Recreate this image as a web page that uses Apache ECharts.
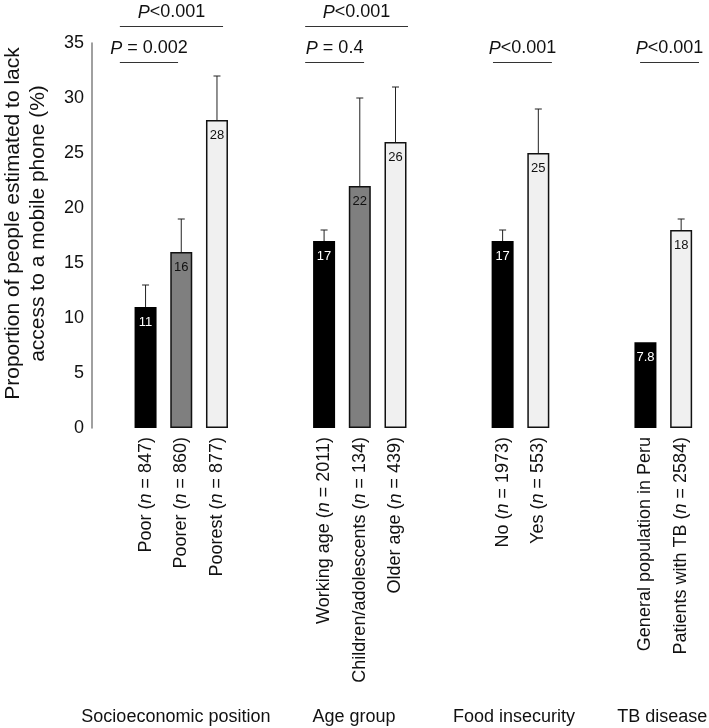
<!DOCTYPE html>
<html><head><meta charset="utf-8">
<script src="https://cdn.jsdelivr.net/npm/echarts@6/dist/echarts.min.js"></script>
<style>html,body{margin:0;padding:0;background:#fff}#c{width:709px;height:728px}</style>
</head><body><div id="c"></div>
<script>
// ---- data ----
const categories = ['', 'Poor', 'Poorer', 'Poorest', '', '', 'Working age', 'Children/adolescents', 'Older age', '', '', 'No', 'Yes', '', '', 'General population in Peru', 'Patients with TB'];
const sampleSizes = [null, 847, 860, 877, null, null, 2011, 134, 439, null, null, 1973, 553, null, null, null, 2584];
const values = [null, 11, 16, 28, null, null, 17, 22, 26, null, null, 17, 25, null, null, 7.8, 18];
const upperCI = [null, 13, 19, 32, null, null, 18, 30, 31, null, null, 18, 29, null, null, null, 19];
const groupNames = ['Socioeconomic position', 'Age group', 'Food insecurity', 'TB disease'];
const groupMembers = [[1, 2, 3], [6, 7, 8], [11, 12], [15, 16]];
const pValueTexts = ['P<0.001', 'P = 0.002', 'P<0.001', 'P = 0.4', 'P<0.001', 'P<0.001'];
const yMin = 0, yMax = 35, yStep = 5;
const yTitle = 'Proportion of people estimated to lack\naccess to a mobile phone (%)';

// ---- layout / style ----
const FONT = '"Liberation Sans", Arial, Helvetica, sans-serif';
const bracketLayout = [
  {from: 0.28, to: 3.17, level: 36.55},
  {from: 0.28, to: 1.91, level: 33.27},
  {from: 5.47, to: 8.35, level: 36.55},
  {from: 5.47, to: 7.12, level: 33.27},
  {from: 10.73, to: 12.38, level: 33.27},
  {from: 14.85, to: 16.5, level: 33.27}
];
const groupLabelPos = [1.85, 6.84, 11.32, 15.47];
const COL_BLACK = '#000000', COL_GRAY = '#7f7f7f', COL_LIGHT = '#f0f0f0';

function shadeFor(i) {
  for (const g of groupMembers) {
    const k = g.indexOf(i);
    if (k < 0) continue;
    if (k === 0) return 'black';
    if (k === g.length - 1) return 'light';
    return 'gray';
  }
  return null;
}

const barData = values.map((v, i) => {
  if (v == null) return '-';
  const s = shadeFor(i);
  const fill = s === 'black' ? COL_BLACK : s === 'gray' ? COL_GRAY : COL_LIGHT;
  return {
    value: v,
    itemStyle: {color: fill, borderColor: '#111', borderWidth: s === 'black' ? 0 : 1.5},
    label: {color: s === 'black' ? '#ffffff' : '#111111'}
  };
});

const errData = [];
values.forEach((v, i) => { if (v != null && upperCI[i] != null) errData.push([i, v, upperCI[i]]); });

const chart = echarts.init(document.getElementById('c'), null, {renderer: 'canvas'});
chart.setOption({
  animation: false,
  backgroundColor: '#ffffff',
  textStyle: {fontFamily: FONT},
  grid: {left: 92, right: 10, top: 43, bottom: 300, containLabel: false, outerBoundsMode: 'none'},
  xAxis: {
    type: 'category',
    data: categories,
    axisLine: {show: false},
    axisTick: {show: false},
    axisLabel: {
      interval: 0, rotate: 90, margin: 9, fontSize: 18, color: '#111', fontFamily: FONT,
      formatter: (val, idx) => sampleSizes[idx] != null ? `${val} ({i|n} = ${sampleSizes[idx]})` : val,
      rich: {i: {fontStyle: 'italic', fontSize: 18, color: '#111', fontFamily: FONT}}
    }
  },
  yAxis: {
    type: 'value', min: yMin, max: yMax, interval: yStep,
    splitLine: {show: false},
    axisTick: {show: false},
    axisLine: {show: true, lineStyle: {color: '#808080', width: 1.5}},
    axisLabel: {fontSize: 18, color: '#111', margin: 8, fontFamily: FONT},
    name: yTitle, nameLocation: 'middle', nameGap: 41,
    nameTextStyle: {fontSize: 21, color: '#111', lineHeight: 25, fontFamily: FONT, align: 'center', padding: [0, 0, 0, 24]}
  },
  series: [
    {
      type: 'bar', data: barData, barWidth: 22,
      label: {show: true, position: 'insideTop', distance: 9, fontSize: 13, fontFamily: FONT,
        formatter: p => String(p.value)}
    },
    {
      type: 'custom', data: errData, z: 5,
      renderItem: (params, api) => {
        const idx = api.value(0);
        const p0 = api.coord([idx, api.value(1)]);
        const p1 = api.coord([idx, api.value(2)]);
        const st = {stroke: '#222', lineWidth: 1};
        return {type: 'group', children: [
          {type: 'line', shape: {x1: p0[0], y1: p0[1], x2: p1[0], y2: p1[1]}, style: st},
          {type: 'line', shape: {x1: p1[0] - 3.5, y1: p1[1], x2: p1[0] + 3.5, y2: p1[1]}, style: st}
        ]};
      }
    }
  ]
});

// annotations positioned through the axes
const x0 = chart.convertToPixel({xAxisIndex: 0}, 0);
const step = chart.convertToPixel({xAxisIndex: 0}, 1) - x0;
const px = f => x0 + step * f;
const py = v => chart.convertToPixel({yAxisIndex: 0}, v);
const elems = [];
bracketLayout.forEach((b, k) => {
  const y = Math.round(py(b.level)) + 0.5;
  const xa = px(b.from), xb = px(b.to);
  elems.push({type: 'line', shape: {x1: xa, y1: y, x2: xb, y2: y}, style: {stroke: '#333', lineWidth: 1.2}});
  const t = pValueTexts[k];
  const m = t.match(/^P(.*)$/);
  elems.push({type: 'text', x: (xa + xb) / 2, y: y - 14, style: {
    text: `{i|P}{r|${m[1]}}`, align: 'center', verticalAlign: 'middle',
    rich: {i: {fontStyle: 'italic', fontSize: 18, fontFamily: FONT, fill: '#111'}, r: {fontSize: 18, fontFamily: FONT, fill: '#111'}}
  }});
});
groupNames.forEach((g, k) => {
  elems.push({type: 'text', x: px(groupLabelPos[k]), y: 717, style: {
    text: g, align: 'center', verticalAlign: 'middle', fontSize: 18, fontFamily: FONT, fill: '#111'}});
});
chart.setOption({graphic: {elements: elems}});
</script></body></html>
